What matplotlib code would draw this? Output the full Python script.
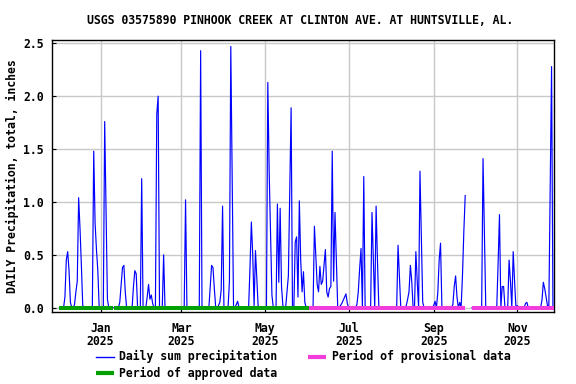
import matplotlib
matplotlib.use('Agg')
import matplotlib.pyplot as plt
import matplotlib.dates as mdates
from matplotlib.lines import Line2D
import pandas as pd
import numpy as np

plt.rcParams['font.family'] = ['DejaVu Sans Mono']
plt.rcParams['font.weight'] = 'bold'

# ---------------- data ----------------
title = "USGS 03575890 PINHOOK CREEK AT CLINTON AVE. AT HUNTSVILLE, AL."
ylabel = "DAILY Precipitation, total, inches"

period_start = '2024-12-02'
period_end = '2025-11-27'

rain_dates = [
    '2024-12-06', '2024-12-07', '2024-12-08', '2024-12-09', '2024-12-10',
    '2024-12-13', '2024-12-14', '2024-12-15', '2024-12-16', '2024-12-17', '2024-12-18', '2024-12-19',
    '2024-12-27', '2024-12-28', '2024-12-29', '2024-12-30',
    '2025-01-04', '2025-01-05', '2025-01-06',
    '2025-01-15', '2025-01-16', '2025-01-17', '2025-01-18', '2025-01-19',
    '2025-01-25', '2025-01-26', '2025-01-27', '2025-01-31',
    '2025-02-04', '2025-02-05', '2025-02-06', '2025-02-07', '2025-02-08',
    '2025-02-11', '2025-02-12', '2025-02-16',
    '2025-03-04', '2025-03-15', '2025-03-19',
    '2025-03-22', '2025-03-23', '2025-03-24', '2025-03-25',
    '2025-03-28', '2025-03-29', '2025-03-30', '2025-03-31',
    '2025-04-05', '2025-04-06', '2025-04-07', '2025-04-10', '2025-04-11',
    '2025-04-20', '2025-04-21', '2025-04-22', '2025-04-23', '2025-04-24', '2025-04-25',
    '2025-05-03', '2025-05-04', '2025-05-05', '2025-05-06',
    '2025-05-10', '2025-05-11', '2025-05-12', '2025-05-13', '2025-05-14',
    '2025-05-17', '2025-05-18', '2025-05-19', '2025-05-20',
    '2025-05-23', '2025-05-24', '2025-05-25', '2025-05-26', '2025-05-27', '2025-05-28',
    '2025-05-29', '2025-05-30',
    '2025-06-06', '2025-06-07', '2025-06-08', '2025-06-09', '2025-06-10', '2025-06-11',
    '2025-06-12', '2025-06-13', '2025-06-14', '2025-06-15', '2025-06-16', '2025-06-17',
    '2025-06-18', '2025-06-19', '2025-06-20', '2025-06-21', '2025-06-22',
    '2025-06-25', '2025-06-26', '2025-06-27', '2025-06-28', '2025-06-29', '2025-06-30',
    '2025-07-07', '2025-07-08', '2025-07-09', '2025-07-10', '2025-07-12',
    '2025-07-18', '2025-07-19', '2025-07-21', '2025-07-22',
    '2025-08-06', '2025-08-07',
    '2025-08-12', '2025-08-13', '2025-08-14', '2025-08-15', '2025-08-16',
    '2025-08-19', '2025-08-20', '2025-08-22', '2025-08-23', '2025-08-24',
    '2025-09-01', '2025-09-02', '2025-09-04', '2025-09-05', '2025-09-06',
    '2025-09-15', '2025-09-16', '2025-09-17', '2025-09-18', '2025-09-20',
    '2025-09-22', '2025-09-23', '2025-09-24',
    '2025-10-07', '2025-10-08',
    '2025-10-18', '2025-10-19', '2025-10-21', '2025-10-22',
    '2025-10-26', '2025-10-27', '2025-10-29', '2025-10-30',
    '2025-11-01', '2025-11-07', '2025-11-08',
    '2025-11-19', '2025-11-20', '2025-11-21', '2025-11-22', '2025-11-23',
    '2025-11-25', '2025-11-26',
]
rain_values = [
    0.10, 0.45, 0.53, 0.35, 0.05,
    0.03, 0.15, 0.25, 1.04, 0.75, 0.40, 0.02,
    1.48, 0.80, 0.55, 0.35,
    1.76, 0.92, 0.08,
    0.05, 0.22, 0.38, 0.40, 0.15,
    0.20, 0.35, 0.32, 1.22,
    0.10, 0.22, 0.08, 0.12, 0.04,
    1.83, 2.00, 0.50,
    1.02, 2.43, 0.01,
    0.20, 0.40, 0.38, 0.18,
    0.02, 0.05, 0.17, 0.96,
    0.25, 2.47, 1.24, 0.03, 0.06,
    0.38, 0.81, 0.50, 0.02, 0.54, 0.28,
    2.13, 1.28, 0.70, 0.12,
    0.98, 0.24, 0.94, 0.20, 0.02,
    0.15, 0.30, 1.10, 1.89,
    0.62, 0.67, 0.10, 1.01, 0.45, 0.15,
    0.34, 0.05,
    0.77, 0.50, 0.22, 0.15, 0.39, 0.22,
    0.25, 0.40, 0.55, 0.15, 0.10, 0.18,
    0.20, 1.48, 0.25, 0.90, 0.45,
    0.02, 0.04, 0.07, 0.10, 0.13, 0.04,
    0.03, 0.15, 0.37, 0.56, 1.24,
    0.90, 0.44, 0.96, 0.44,
    0.59, 0.29,
    0.02, 0.08, 0.15, 0.40, 0.25,
    0.53, 0.25, 1.29, 0.65, 0.05,
    0.02, 0.06, 0.14, 0.45, 0.61,
    0.03, 0.20, 0.30, 0.10, 0.05,
    0.30, 0.72, 1.06,
    1.41, 0.70,
    0.42, 0.88, 0.20, 0.20,
    0.45, 0.25, 0.53, 0.25,
    0.02, 0.04, 0.05,
    0.07, 0.24, 0.18, 0.10, 0.02,
    1.12, 2.28,
]
missing_start = '2025-09-25'
missing_end = '2025-09-28'

approved_starts = ['2024-12-02', '2025-01-11']
approved_ends = ['2025-01-10', '2025-06-02']
provisional_starts = ['2025-06-02', '2025-09-29']
provisional_ends = ['2025-09-24', '2025-11-28']

month_ticks = ['2025-01-01', '2025-03-01', '2025-05-01', '2025-07-01', '2025-09-01', '2025-11-01']
month_labels = ['Jan\n2025', 'Mar\n2025', 'May\n2025', 'Jul\n2025', 'Sep\n2025', 'Nov\n2025']
y_ticks = [0.0, 0.5, 1.0, 1.5, 2.0, 2.5]
y_labels = ['0.0', '0.5', '1.0', '1.5', '2.0', '2.5']

legend_labels = ['Daily sum precipitation', 'Period of provisional data', 'Period of approved data']

# ---------------- build series ----------------
days = pd.date_range(period_start, period_end, freq='D')
series = pd.Series(0.0, index=days)
for d, v in zip(rain_dates, rain_values):
    series[pd.Timestamp(d)] = v
series[pd.Timestamp(missing_start):pd.Timestamp(missing_end)] = np.nan

# ---------------- figure ----------------
W, H = 576, 384
fig = plt.figure(figsize=(W / 100, H / 100), dpi=100)
L, R, T, B = 52, 554, 39.5, 312
ax = fig.add_axes([L / W, 1 - B / H, (R - L) / W, (B - T) / H])

blue = '#0000FF'
green = '#00A000'
pink = '#F23CDC'
fs = 8.3

ax.plot(series.index, series.values, color=blue, lw=0.85, zorder=3)
for s, e in zip(approved_starts, approved_ends):
    ax.plot([pd.Timestamp(s), pd.Timestamp(e)], [0, 0], color=green, lw=2.9,
            solid_capstyle='butt', zorder=4)
for s, e in zip(provisional_starts, provisional_ends):
    ax.plot([pd.Timestamp(s), pd.Timestamp(e)], [0, 0], color=pink, lw=2.9,
            solid_capstyle='butt', zorder=4)

jan1 = mdates.date2num(pd.Timestamp('2025-01-01'))
ax.set_xlim(jan1 - 35.43, jan1 + 330.77)
ax.set_ylim(-0.041, 2.536)

ax.set_xticks([pd.Timestamp(t) for t in month_ticks])
ax.set_xticklabels(month_labels, fontsize=fs, fontweight='bold', linespacing=1.05)
ax.set_yticks(y_ticks)
ax.set_yticklabels(y_labels, fontsize=fs, fontweight='bold')

ax.grid(True, color='#C8C8C8', lw=1.0)
ax.set_axisbelow(True)
ax.tick_params(axis='both', direction='in', length=3, width=0.8, color='black')
ax.tick_params(axis='x', pad=7)
ax.tick_params(axis='y', pad=6)
for sp in ax.spines.values():
    sp.set_linewidth(1.0)
    sp.set_color('black')

fig.text(300.5 / W, 1 - 20.7 / H, title, ha='center', va='center', fontsize=fs, fontweight='bold')
fig.text(12 / W, 1 - 176 / H, ylabel, ha='center', va='center', rotation=90,
         fontsize=fs, fontweight='bold')

# ---------------- legend ----------------
def fx(x):
    return x / W

def fy(y):
    return 1 - y / H

fig.add_artist(Line2D([fx(96), fx(114)], [fy(356.7), fy(356.7)], color=blue, lw=1.0,
                      transform=fig.transFigure))
fig.text(fx(119.4), fy(356.7), legend_labels[0], ha='left', va='center', fontsize=fs, fontweight='bold')
fig.add_artist(Line2D([fx(308), fx(326)], [fy(356.7), fy(356.7)], color=pink, lw=3.0,
                      solid_capstyle='butt', transform=fig.transFigure))
fig.text(fx(331.5), fy(356.7), legend_labels[1], ha='left', va='center', fontsize=fs, fontweight='bold')
fig.add_artist(Line2D([fx(96), fx(114)], [fy(373), fy(373)], color=green, lw=3.0,
                      solid_capstyle='butt', transform=fig.transFigure))
fig.text(fx(119.4), fy(373), legend_labels[2], ha='left', va='center', fontsize=fs, fontweight='bold')

fig.savefig('out.png', dpi=100)
